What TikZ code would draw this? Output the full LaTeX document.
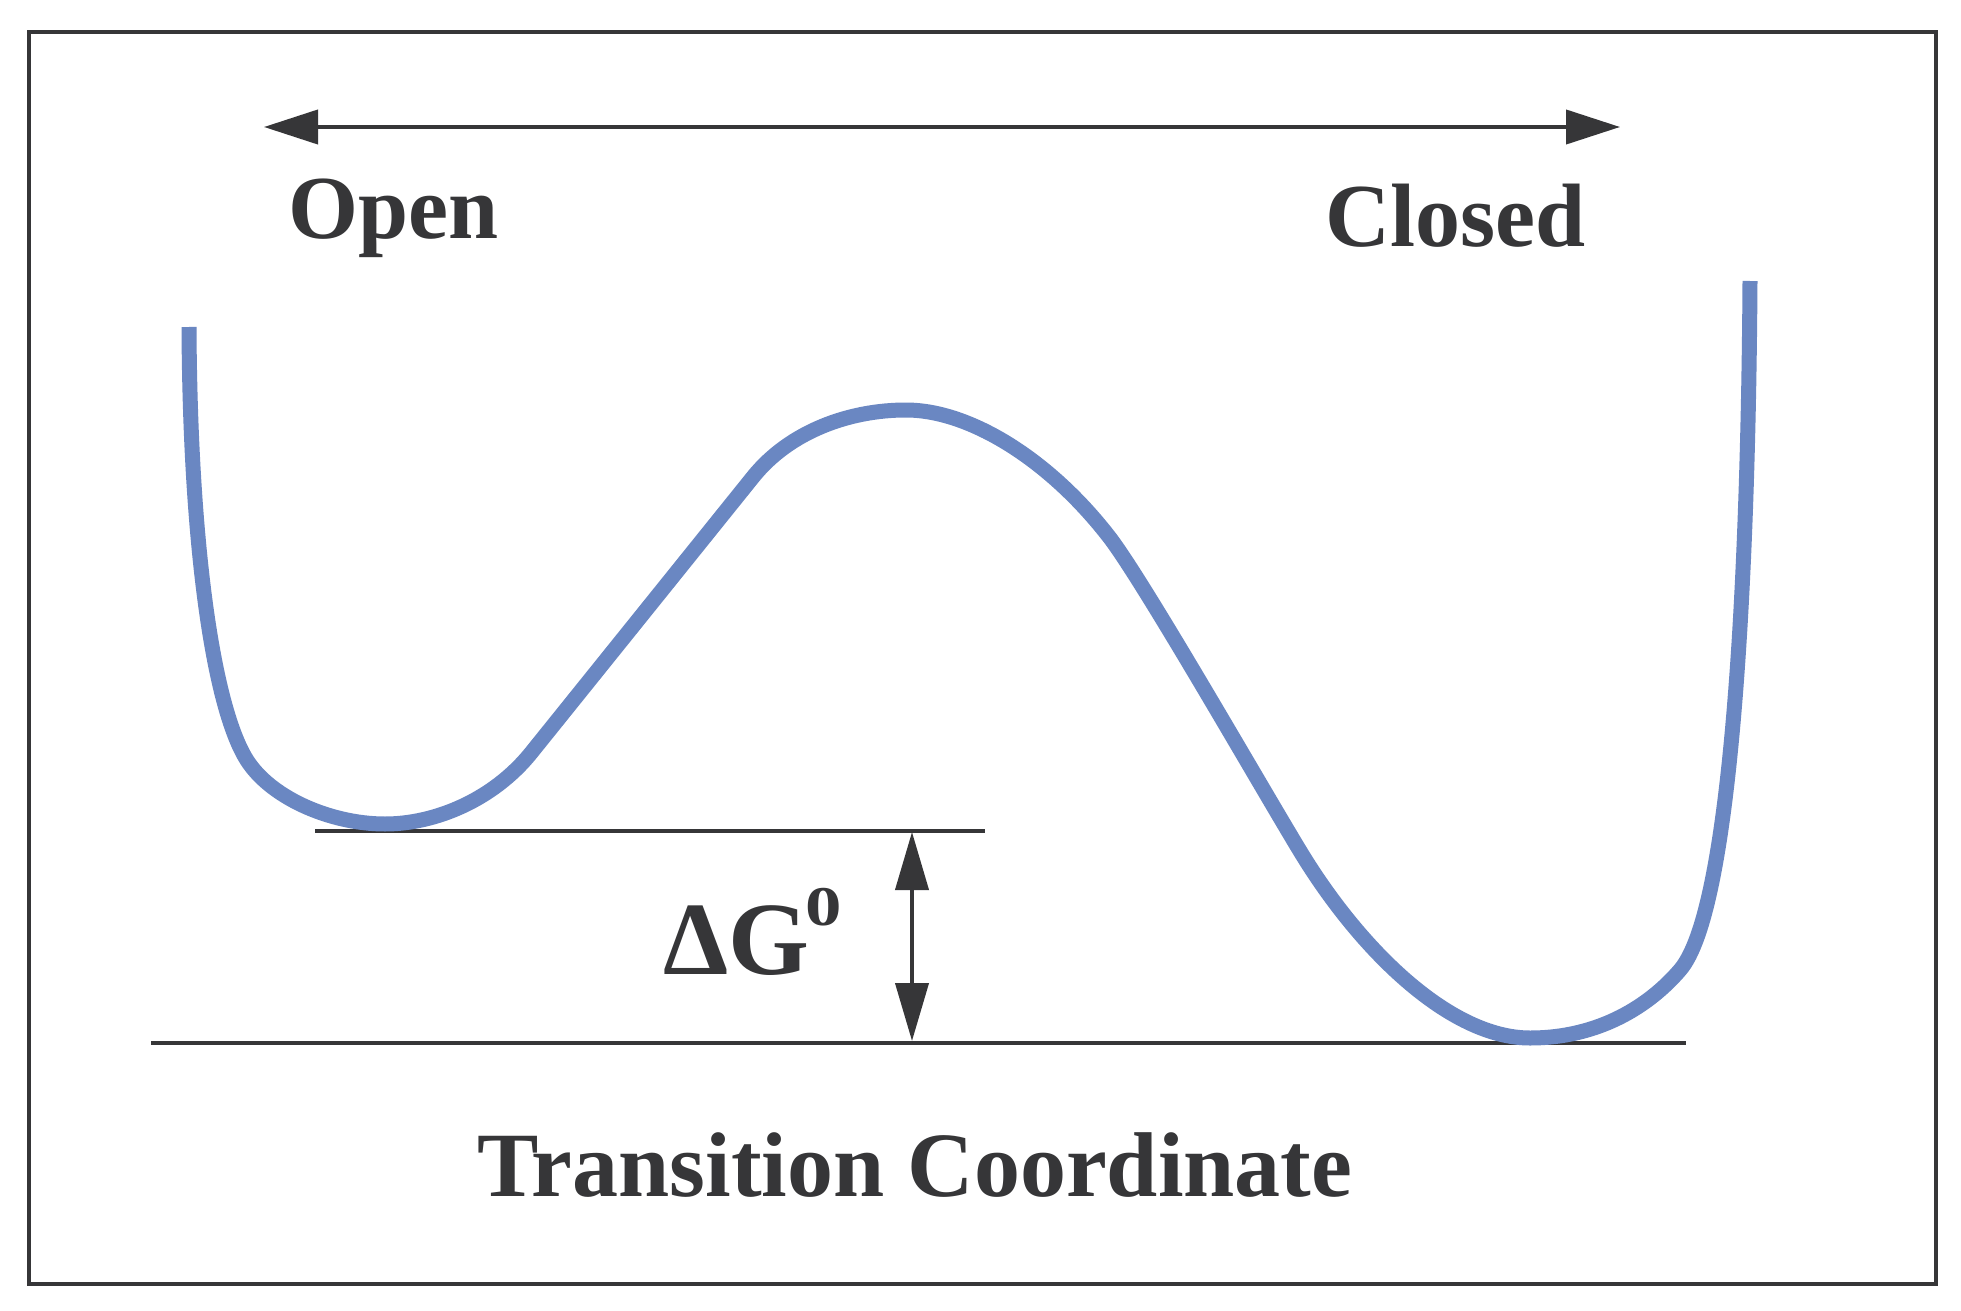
\documentclass[tikz,border=0pt]{standalone}
\usepackage{fontspec}
\setmainfont{Liberation Serif}
\usetikzlibrary{arrows.meta}
\definecolor{ink}{RGB}{54,54,56}
\definecolor{curveblue}{RGB}{106,135,194}
\begin{document}
\begin{tikzpicture}[x=0.5pt,y=-0.5pt,
  lbl/.style={inner sep=0pt, anchor=base west, text=ink, font=\fontsize{45}{54}\selectfont\bfseries},
  rule/.style={draw=ink, line width=2pt},
  dirarrow/.style={draw=ink, line width=2pt, {Triangle[length=27pt,width=17pt]}-{Triangle[length=27pt,width=17pt]}},
  gaparrow/.style={draw=ink, line width=2pt, {Triangle[length=29pt,width=16.5pt]}-{Triangle[length=29pt,width=16.5pt]}},
  energy/.style={draw=curveblue, line width=7.5pt, line join=round}
]
\useasboundingbox (0,0) rectangle (1961,1311);
\fill[white] (0,0) rectangle (1961,1311);
\draw[rule] (29,32) rectangle (1935.5,1284);

% direction arrow
\coordinate (dl) at (264,127);
\coordinate (dr) at (1620,127);
\draw[dirarrow] (dl) -- (dr);

\node[lbl] (open) at (288,238) {Open};
\node[lbl] (closed) at (1325,247) {Closed};
\node[lbl, font=\fontsize{46}{54}\selectfont\bfseries] (tc) at (477,1196) {Transition Coordinate};

% reference levels
\coordinate (u1) at (315,830.5);
\coordinate (u2) at (985,830.5);
\coordinate (b1) at (151,1043);
\coordinate (b2) at (1686,1043);
\draw[rule] (u1) -- (u2);
\draw[rule] (b1) -- (b2);

\coordinate (gt) at (912,832);
\coordinate (gb) at (912,1041);
\draw[gaparrow] (gt) -- (gb);

\node[lbl, font=\fontsize{52}{60}\selectfont\bfseries] (dg) at (663,974)
  {ΔG\hspace{-2pt}\raisebox{24.5pt}{\fontsize{28}{30}\selectfont\scalebox{1.3}[1]{0}}};

% energy profile
\draw[energy] (189,327)
  .. controls (190,540) and (212,700) .. (245,757)
  .. controls (268,797) and (330,824) .. (385,824)
  .. controls (435,824) and (493,800) .. (531,753)
  -- (753,477)
  .. controls (790,431) and (850,410) .. (906,410)
  .. controls (970,410) and (1050,460) .. (1110,538)
  .. controls (1145,584) and (1260,785) .. (1300,851)
  .. controls (1360,950) and (1450,1038) .. (1530,1038)
  .. controls (1600,1038) and (1650,1005) .. (1680,970)
  .. controls (1730,912) and (1748,600) .. (1750,281);
\end{tikzpicture}
\end{document}
